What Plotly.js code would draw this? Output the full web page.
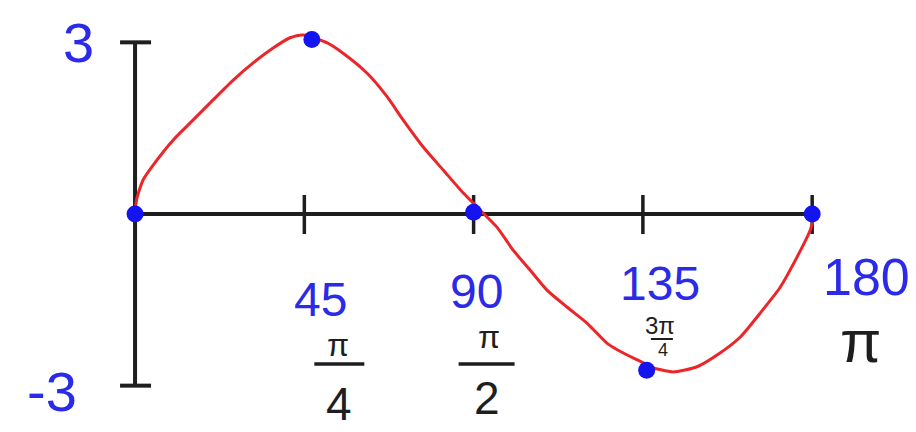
<!DOCTYPE html>
<html>
<head>
<meta charset="utf-8">
<script src="https://cdn.plot.ly/plotly-3.0.1.min.js"></script>
<style>
  html, body { margin: 0; padding: 0; background: #fff; }
  #chart { width: 916px; height: 432px; }
</style>
</head>
<body>
<div id="chart"></div>
<script>
// y = 3 sin(2x) sketched over one period, x in degrees
const curveX = [0, 0.4, 2.1, 5.8, 10.1, 15.4, 20.7, 26.1, 31.4, 36.7, 41.2, 44.7, 51.1, 55.3, 61.7, 67.0,
                71.3, 76.6, 81.9, 87.2, 91.7, 96.2, 100.5, 105.0, 109.5, 114.9, 120.2, 125.5, 129.8, 135.1,
                136.9, 143.0, 149.4, 155.5, 160.9, 166.2, 171.5, 176.0, 179.5, 180.3];
const curveY = [0, 0.25, 0.59, 0.94, 1.29, 1.64, 1.99, 2.34, 2.64, 2.90, 3.08, 3.13, 2.99, 2.81, 2.46, 2.05,
                1.64, 1.17, 0.77, 0.37, 0.07, -0.23, -0.63, -0.98, -1.33, -1.63, -1.91, -2.26, -2.43, -2.60,
                -2.67, -2.76, -2.67, -2.43, -2.15, -1.73, -1.28, -0.75, -0.28, -0.10];

// key points of the period
const keyX = [0, 47, 90, 136, 180];
const keyY = [0, 3.05, 0.03, -2.73, 0];

// axis ticks and their labels (degrees over radians)
const tickDeg = [45, 90, 135, 180];
const degLabels = ['45', '90', '135', '180'];
const radNum = ['π', 'π', '3π', 'π'];
const radDen = ['4', '2', '4', ''];
const yTicks = [3, -3];
const yLabels = ['3', '-3'];

const BLUE = '#2a2ae8';
const INK = '#1e1e1e';
const FONT = 'Liberation Sans';

const shapes = [];
const annotations = [];

// axes drawn through the data scales
shapes.push({type: 'line', xref: 'x', yref: 'y', x0: 0, x1: 0, y0: yTicks[1], y1: yTicks[0],
             line: {color: INK, width: 4}, layer: 'below'});
shapes.push({type: 'line', xref: 'x', yref: 'y', x0: 0, x1: tickDeg[tickDeg.length - 1], y0: 0, y1: 0,
             line: {color: INK, width: 4}, layer: 'below'});
// caps on the vertical axis
yTicks.forEach(v => {
  shapes.push({type: 'line', xref: 'x', yref: 'y', xsizemode: 'pixel', xanchor: 0,
               x0: -15, x1: 16, y0: v, y1: v, line: {color: INK, width: 4}, layer: 'below'});
});
// ticks on the horizontal axis
tickDeg.forEach(v => {
  shapes.push({type: 'line', xref: 'x', yref: 'y', ysizemode: 'pixel', yanchor: 0,
               x0: v, x1: v, y0: -20, y1: 19, line: {color: INK, width: 3.5}, layer: 'below'});
});

// one text hung below the horizontal axis, offset in pixels from its tick
function tickText(v, text, dx, dy, size, color) {
  annotations.push({x: v, y: 0, xref: 'x', yref: 'y', text: text, showarrow: false,
                    xanchor: 'center', yanchor: 'top', xshift: dx, yshift: dy,
                    font: {family: FONT, size: size, color: color}});
}
// fraction bar under a radian numerator
function fracBar(v, cx, cy, half, w) {
  shapes.push({type: 'line', xref: 'x', yref: 'y', xsizemode: 'pixel', ysizemode: 'pixel',
               xanchor: v, yanchor: 0, x0: cx - half, x1: cx + half, y0: cy, y1: cy,
               line: {color: INK, width: w}});
}

// degree labels
const degPos = [[16, -57, 48], [3, -49, 48], [17, -41, 48], [54, -32, 52]];
tickDeg.forEach((v, i) => tickText(v, degLabels[i], degPos[i][0], degPos[i][1], degPos[i][2], BLUE));

// radian numerators
const numPos = [[34, -111, 32], [15, -103, 32], [17, -96, 24], [48, -92, 60]];
tickDeg.forEach((v, i) => tickText(v, radNum[i], numPos[i][0], numPos[i][1], numPos[i][2], INK));

// radian denominators with their bars
const denPos = [[35, -162, 46], [13, -156, 46], [20, -124, 18]];
const barPos = [[35, -150, 25, 3.5], [13, -150, 28, 3.5], [19, -125, 11, 2]];
tickDeg.forEach((v, i) => {
  if (!radDen[i]) return;
  tickText(v, radDen[i], denPos[i][0], denPos[i][1], denPos[i][2], INK);
  fracBar(v, barPos[i][0], barPos[i][1], barPos[i][2], barPos[i][3]);
});

// vertical axis labels
const yPos = [[-57, 33], [-83, 28]];
yTicks.forEach((v, i) => {
  annotations.push({x: 0, y: v, xref: 'x', yref: 'y', text: yLabels[i], showarrow: false,
                    xanchor: 'center', yanchor: 'top', xshift: yPos[i][0], yshift: yPos[i][1],
                    font: {family: FONT, size: 56, color: BLUE}});
});

const data = [
  {x: curveX, y: curveY, type: 'scatter', mode: 'lines',
   line: {color: '#ec2528', width: 3, shape: 'spline', smoothing: 0.6}, hoverinfo: 'skip'},
  {x: keyX, y: keyY, type: 'scatter', mode: 'markers', marker: {color: '#1414f0', size: 17}}
];

const layout = {
  width: 916, height: 432,
  margin: {l: 0, r: 0, t: 0, b: 0},
  paper_bgcolor: '#fff', plot_bgcolor: '#fff',
  showlegend: false,
  xaxis: {range: [-35.9, 207.6], visible: false, fixedrange: true},
  yaxis: {range: [-3.81, 3.74], visible: false, fixedrange: true},
  shapes: shapes,
  annotations: annotations
};

Plotly.newPlot('chart', data, layout, {staticPlot: true});
</script>
</body>
</html>
